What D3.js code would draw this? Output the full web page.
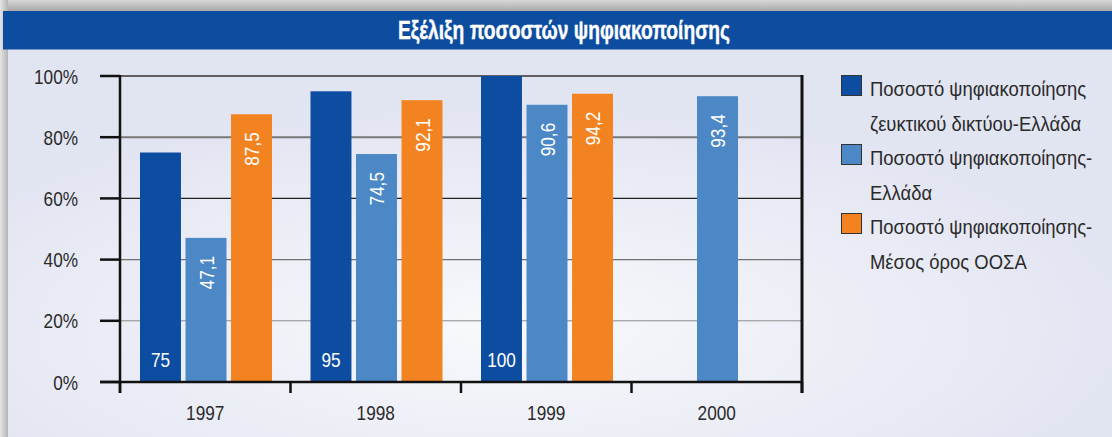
<!DOCTYPE html>
<html><head><meta charset="utf-8">
<script src="https://cdn.jsdelivr.net/npm/d3@7"></script>
<style>
html,body{margin:0;padding:0;background:#e2e5f2;}
svg{display:block;}
</style></head>
<body>
<svg id="chart" width="1112" height="437"></svg>
<script>
const title = "Εξέλιξη ποσοστών ψηφιακοποίησης";
const years = ["1997", "1998", "1999", "2000"];
const seriesNames = [
  ["Ποσοστό ψηφιακοποίησης", "ζευκτικού δικτύου-Ελλάδα"],
  ["Ποσοστό ψηφιακοποίησης-", "Ελλάδα"],
  ["Ποσοστό ψηφιακοποίησης-", "Μέσος όρος ΟΟΣΑ"]
];
const switchNetworkGR = [75, 95, 100, null];
const digitalGR = [47.1, 74.5, 90.6, 93.4];
const digitalOECD = [87.5, 92.1, 94.2, null];
const yTicks = [0, 20, 40, 60, 80, 100];
const colors = ["#0d4da1", "#4c87c6", "#f38320"];

const seriesValues = [switchNetworkGR, digitalGR, digitalOECD];
const FONT = "'Liberation Sans',Arial,sans-serif";
const NARROW = 0.82;

const svg = d3.select("#chart");
const W = 1112, H = 437;

function ctext(g, x, y, str, anchor, rot, sx) {
  return g.append("text")
    .attr("transform", `translate(${x},${y})${rot ? " rotate(" + rot + ")" : ""} scale(${sx || NARROW},1)`)
    .attr("text-anchor", anchor || "start").text(str);
}

// background
const defs = svg.append("defs");
const rg = defs.append("radialGradient").attr("id", "bg")
  .attr("cx", 0.45).attr("cy", 0.72).attr("r", 0.6);
rg.append("stop").attr("offset", "0%").attr("stop-color", "#f8f9fc");
rg.append("stop").attr("offset", "100%").attr("stop-color", "#e1e4f1");
const sh = defs.append("linearGradient").attr("id", "shTop").attr("x1", 0).attr("y1", 0).attr("x2", 0).attr("y2", 1);
sh.append("stop").attr("offset", "0%").attr("stop-color", "#d8d8d8");
sh.append("stop").attr("offset", "100%").attr("stop-color", "#a8a8a8");
const shl = defs.append("linearGradient").attr("id", "shLeft").attr("x1", 0).attr("y1", 0).attr("x2", 1).attr("y2", 0);
shl.append("stop").attr("offset", "0%").attr("stop-color", "#e4e4e4");
shl.append("stop").attr("offset", "100%").attr("stop-color", "#b4b4b4");

svg.append("rect").attr("width", W).attr("height", H).attr("fill", "#e2e5f2");
svg.append("rect").attr("x", 8).attr("y", 49).attr("width", W - 8).attr("height", H - 49).attr("fill", "url(#bg)");
svg.append("rect").attr("x", 0).attr("y", 0).attr("width", W).attr("height", 11).attr("fill", "url(#shTop)");
svg.append("rect").attr("x", 0).attr("y", 0).attr("width", 8).attr("height", H).attr("fill", "url(#shLeft)");

// title bar
svg.append("rect").attr("x", 3).attr("y", 11).attr("width", W - 3).attr("height", 38.5).attr("fill", "#0d4d9f");
svg.append("text").attr("x", 564).attr("y", 38.5).attr("text-anchor", "middle")
  .attr("font-family", FONT).attr("font-weight", "bold").attr("font-size", 25)
  .attr("stroke", "#ffffff").attr("stroke-width", 0.4)
  .attr("textLength", 332).attr("lengthAdjust", "spacingAndGlyphs")
  .attr("fill", "#ffffff").text(title);

// scales
const x0 = d3.scaleBand().domain(years).range([120, 802]).paddingInner(0).paddingOuter(0);
const x1 = d3.scaleBand().domain([0, 1, 2]).range([20, 152]).paddingInner(0.1);
const y = d3.scaleLinear().domain([0, 100]).range([382, 76]);

// gridlines
const gridColors = {20: "#8a8a8a", 40: "#707070", 60: "#222", 80: "#777", 100: "#333"};
const gridWidths = {20: 1, 40: 1.2, 60: 1.2, 80: 2, 100: 1.5};
svg.append("g").selectAll("line").data(yTicks.filter(d => d > 0)).join("line")
  .attr("x1", 120).attr("x2", 802).attr("y1", d => y(d)).attr("y2", d => y(d))
  .attr("stroke", d => gridColors[d]).attr("stroke-width", d => gridWidths[d]);

// bars
const flat = [];
years.forEach((yr, i) => seriesValues.forEach((s, j) => {
  if (s[i] != null) flat.push({yr, j, v: s[i]});
}));
svg.append("g").selectAll("rect").data(flat).join("rect")
  .attr("x", d => x0(d.yr) + x1(d.j)).attr("width", x1.bandwidth())
  .attr("y", d => y(d.v)).attr("height", d => y(0) - y(d.v))
  .attr("fill", d => colors[d.j]);

// value labels
const loc = d3.formatLocale({decimal: ",", thousands: ".", grouping: [3], currency: ["", "€"]});
const fmt = v => Number.isInteger(v) ? String(v) : loc.format(".1f")(v);
const lab = svg.append("g").attr("font-family", FONT).attr("font-size", 21).attr("fill", "#fff");
flat.forEach(d => {
  const cx = x0(d.yr) + x1(d.j) + x1.bandwidth() / 2;
  if (d.j === 0) {
    ctext(lab, cx, 367, fmt(d.v), "middle");
  } else {
    ctext(lab, cx + 7.5, y(d.v) + 18, fmt(d.v), "end", -90);
  }
});

// axes
const ax = svg.append("g").attr("stroke", "#111").attr("fill", "none");
ax.append("line").attr("x1", 120).attr("x2", 120).attr("y1", 75).attr("y2", 393).attr("stroke-width", 2.5);
ax.append("line").attr("x1", 802).attr("x2", 802).attr("y1", 75).attr("y2", 393).attr("stroke-width", 3);
ax.append("line").attr("x1", 100).attr("x2", 803).attr("y1", y(0)).attr("y2", y(0)).attr("stroke-width", 2.5);
ax.selectAll(".yt").data(yTicks).join("line").attr("class", "yt")
  .attr("x1", 100).attr("x2", 120).attr("y1", d => y(d)).attr("y2", d => y(d)).attr("stroke-width", 2.5);
const bounds = years.map(yr => x0(yr)).concat([x0.range()[1]]);
ax.selectAll(".xt").data(bounds).join("line").attr("class", "xt")
  .attr("x1", d => d).attr("x2", d => d).attr("y1", y(0)).attr("y2", 393).attr("stroke-width", 2.5);

// tick labels
const tl = svg.append("g").attr("font-family", FONT).attr("font-size", 21).attr("fill", "#2a2a2a");
yTicks.forEach(d => ctext(tl, 78, y(d) + 7.5, d + "%", "end"));
years.forEach(d => ctext(tl, x0(d) + x0.bandwidth() / 2, 420, d, "middle"));

// legend
const lg = svg.append("g").attr("font-family", FONT).attr("font-size", 20.5).attr("fill", "#2a2a2a");
seriesNames.forEach((lines, i) => {
  const top = 75 + i * 69;
  lg.append("rect").attr("x", 841.5).attr("y", top + 0.5).attr("width", 20).attr("height", 20)
    .attr("fill", colors[i]).attr("stroke", "#333").attr("stroke-width", 1);
  lines.forEach((t, k) => ctext(lg, 870, top + 21 + k * 34.5, t, "start", 0, 0.9));
});
</script>
</body></html>
